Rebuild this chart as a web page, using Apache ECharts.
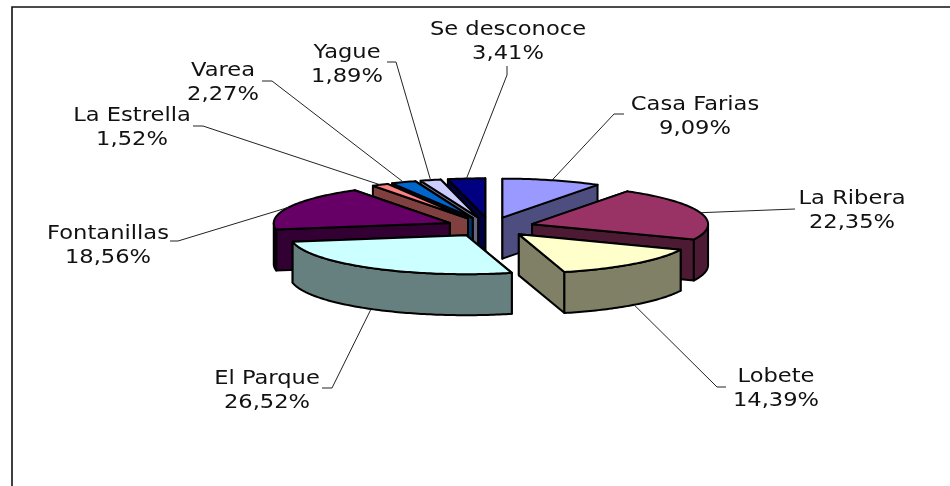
<!DOCTYPE html>
<html>
<head>
<meta charset="utf-8">
<title>Barrios</title>
<script src="https://cdn.jsdelivr.net/npm/echarts@6/dist/echarts.min.js"></script>
<style>
  html, body { margin: 0; padding: 0; background: #fff; }
  #chart { width: 950px; height: 486px; }
</style>
</head>
<body>
<div id="chart"></div>
<script>
const categories = ['Casa Farias', 'La Ribera', 'Lobete', 'El Parque', 'Fontanillas', 'La Estrella', 'Varea', 'Yague', 'Se desconoce'];
const percents = [9.09, 22.35, 14.39, 26.52, 18.56, 1.52, 2.27, 1.89, 3.41];
const topColors = ['#9999ff', '#993366', '#ffffcc', '#ccffff', '#660066', '#ff8080', '#0066cc', '#ccccff', '#000080'];
const sideColors = ['#4d4d80', '#4d1a33', '#808066', '#668080', '#330033', '#804040', '#003366', '#666680', '#000040'];

// label centre and leader elbow for each category, same order as above
const labelCentres = [[695, 117], [852, 211], [776, 389], [267, 391], [108, 246], [132, 128], [223, 83], [347, 65], [508, 42]];
const leaderElbows = [[[614, 114], [624, 114]], [[795, 209]], [[717, 387], [726, 387]], [[332, 388], [322, 388]], [[178, 241], [170, 241]], [[203, 126], [193, 126]], [[272, 81], [262, 81]], [[396, 62], [387, 62]], [[507, 75], [507, 66]]];

const centre = [490, 227];
const rx = 176;
const ry = 39;
const depth = 41;
const explode = 0.25;
// the original face is wider than DejaVu, so stretch the labels a bit
const labelStretch = 1.13;

const rad = (deg) => (deg * Math.PI) / 180;

// angles run clockwise from twelve o'clock
const slices = (() => {
  const total = percents.reduce((a, b) => a + b, 0);
  let acc = 0;
  return percents.map((p, i) => {
    const start = (acc / total) * 360;
    acc += p;
    const end = (acc / total) * 360;
    const mid = (start + end) / 2;
    return {
      index: i,
      start,
      end,
      mid,
      apex: [centre[0] + explode * rx * Math.sin(rad(mid)), centre[1] - explode * ry * Math.cos(rad(mid))],
    };
  });
})();

const rimPoint = (s, deg) => [s.apex[0] + rx * Math.sin(rad(deg)), s.apex[1] - ry * Math.cos(rad(deg))];
const drop = (p) => [p[0], p[1] + depth];

const arcPoints = (s, from, to) => {
  const pts = [];
  const steps = Math.max(2, Math.ceil(to - from));
  for (let k = 0; k <= steps; k += 1) pts.push(rimPoint(s, from + ((to - from) * k) / steps));
  return pts;
};

const poly = (points, fill) => ({
  type: 'polygon',
  shape: { points },
  style: { fill, stroke: '#000', lineWidth: 2, lineJoin: 'round' },
});

const renderSlice = (params, api) => {
  const s = slices[api.value(0)];
  const side = sideColors[s.index];
  const startFace = [s.apex, rimPoint(s, s.start), drop(rimPoint(s, s.start)), drop(s.apex)];
  const endFace = [s.apex, rimPoint(s, s.end), drop(rimPoint(s, s.end)), drop(s.apex)];
  const faces = [];
  // back facing cut first, the one towards the viewer after it
  if (Math.sin(rad(s.start)) < 0) {
    faces.push(poly(endFace, side), poly(startFace, side));
  } else {
    faces.push(poly(startFace, side), poly(endFace, side));
  }
  // curved wall, only the front half of the ellipse shows
  const from = Math.max(s.start, 90);
  const to = Math.min(s.end, 270);
  if (to > from) {
    const rim = arcPoints(s, from, to);
    faces.push(poly(rim.concat(rim.map(drop).reverse()), side));
  }
  faces.push(poly([s.apex].concat(arcPoints(s, s.start, s.end)), topColors[s.index]));
  return { type: 'group', children: faces };
};

const renderLabel = (params, api) => {
  const s = slices[api.value(0)];
  const i = s.index;
  const front = Math.cos(rad(s.mid)) < 0;
  const rim = rimPoint(s, s.mid);
  const anchor = front ? drop(rim) : rim;
  const c = labelCentres[i];
  return {
    type: 'group',
    children: [
      {
        type: 'polyline',
        shape: { points: [anchor].concat(leaderElbows[i]) },
        style: { fill: 'none', stroke: '#222', lineWidth: 1 },
      },
      {
        type: 'text',
        x: c[0],
        y: c[1],
        scaleX: labelStretch,
        style: {
          x: 0,
          y: 0,
          text: `${categories[i]}\n${percents[i].toFixed(2).replace('.', ',')}%`,
          align: 'center',
          verticalAlign: 'middle',
          fill: '#111',
          font: '20px "DejaVu Sans"',
          lineHeight: 24,
        },
      },
    ],
  };
};

// painter's order, furthest slice first
const drawOrder = slices
  .slice()
  .sort((a, b) => Math.cos(rad(b.mid)) - Math.cos(rad(a.mid)))
  .map((s) => s.index);

const chart = echarts.init(document.getElementById('chart'), null, { renderer: 'canvas' });
chart.setOption({
  animation: false,
  backgroundColor: '#fff',
  tooltip: { show: false },
  graphic: [
    {
      // the frame runs off the right and bottom of the picture
      type: 'rect',
      shape: { x: 12, y: 7, width: 1000, height: 600 },
      style: { fill: 'none', stroke: '#111', lineWidth: 1.6 },
      z: 0,
    },
  ],
  series: [
    {
      type: 'custom',
      coordinateSystem: 'none',
      renderItem: renderSlice,
      data: drawOrder.map((i) => [i]),
      silent: true,
      z: 2,
    },
    {
      type: 'custom',
      coordinateSystem: 'none',
      renderItem: renderLabel,
      data: drawOrder.map((i) => [i]),
      silent: true,
      z: 3,
    },
  ],
});
</script>
</body>
</html>
